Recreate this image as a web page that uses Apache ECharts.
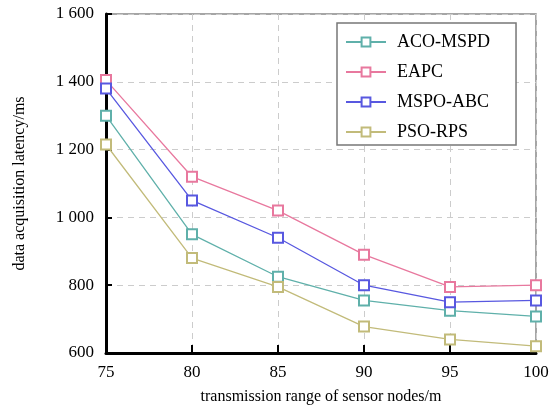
<!DOCTYPE html>
<html>
<head>
<meta charset="utf-8">
<script src="https://cdn.jsdelivr.net/npm/echarts@6/dist/echarts.min.js"></script>
<style>html,body{margin:0;padding:0;background:#fff}</style>
</head>
<body>
<div id="chart" style="width:553px;height:405px;"></div>
<script>
const ranges = ['75', '80', '85', '90', '95', '100'];
const acoMspd = [1300, 950, 825, 755, 725, 708];
const eapc = [1405, 1120, 1020, 890, 795, 800];
const mspoAbc = [1380, 1050, 940, 800, 750, 755];
const psoRps = [1215, 880, 795, 678, 640, 620];

const font = '"Liberation Serif", "DejaVu Serif", serif';
const chart = echarts.init(document.getElementById('chart'));

function line(name, data, color) {
  return {
    name: name,
    type: 'line',
    data: data,
    symbol: 'emptyRect',
    symbolSize: 10,
    lineStyle: { color: color, width: 1.3 },
    itemStyle: { color: color, borderWidth: 1.3 }
  };
}

chart.setOption({
  animation: false,
  textStyle: { fontFamily: font },
  grid: {
    left: 106, right: 17, top: 14, bottom: 52,
    outerBoundsMode: 'none',
    show: true, borderColor: '#888', borderWidth: 1.5
  },
  legend: {
    orient: 'vertical',
    left: 337, top: 23,
    padding: [10, 26, 4, 8],
    itemWidth: 40, itemHeight: 11, itemGap: 12,
    backgroundColor: '#fff',
    borderColor: '#777', borderWidth: 1.5,
    textStyle: { fontFamily: font, fontSize: 18, color: '#000', padding: [0, 0, 0, 6] },
    data: ['ACO-MSPD', 'EAPC', 'MSPO-ABC', 'PSO-RPS']
  },
  xAxis: {
    type: 'category',
    boundaryGap: false,
    data: ranges,
    name: 'transmission range of sensor nodes/m',
    nameLocation: 'middle',
    nameGap: 36,
    nameTextStyle: { fontFamily: font, fontSize: 16, color: '#000' },
    axisLine: { lineStyle: { color: '#000', width: 3 } },
    axisTick: { inside: true, length: 8, lineStyle: { color: '#000', width: 2 } },
    axisLabel: { fontFamily: font, fontSize: 17, color: '#000', margin: 11 },
    splitLine: { show: true, lineStyle: { color: '#ccc', type: [6, 5], width: 1 } }
  },
  yAxis: {
    type: 'value',
    min: 600, max: 1600, interval: 200,
    name: 'data acquisition latency/ms',
    nameLocation: 'middle',
    nameGap: 78,
    nameTextStyle: { fontFamily: font, fontSize: 16, color: '#000' },
    axisLine: { show: true, lineStyle: { color: '#000', width: 3 } },
    axisTick: { show: true, inside: true, length: 6, lineStyle: { color: '#000', width: 2 } },
    axisLabel: {
      fontFamily: font, fontSize: 17, color: '#000', margin: 12,
      formatter: v => v >= 1000 ? Math.floor(v / 1000) + ' ' + String(v % 1000).padStart(3, '0') : String(v)
    },
    splitLine: { show: true, lineStyle: { color: '#ccc', type: [6, 5], width: 1 } }
  },
  series: [
    line('ACO-MSPD', acoMspd, '#5fb0aa'),
    line('EAPC', eapc, '#e8789e'),
    line('MSPO-ABC', mspoAbc, '#5858e0'),
    line('PSO-RPS', psoRps, '#c2bb7a')
  ]
});
</script>
</body>
</html>
